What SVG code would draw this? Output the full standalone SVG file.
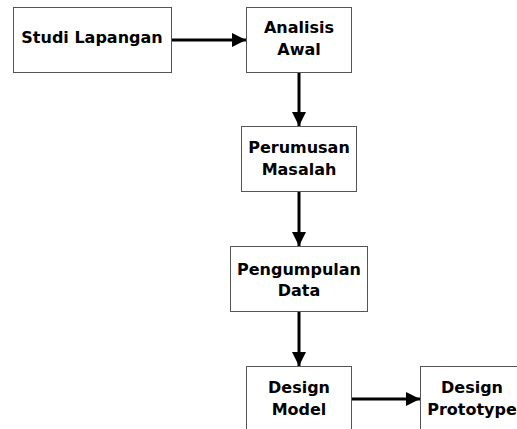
<svg xmlns="http://www.w3.org/2000/svg" width="517" height="429" viewBox="0 0 517 429">
<style>
.box{fill:#fff;stroke:#555;stroke-width:1}
.t{font-family:"DejaVu Sans","Verdana",sans-serif;font-weight:bold;font-size:16px;fill:#000;text-anchor:middle}
.c{stroke:#000;stroke-width:3;fill:none}
</style>
<defs>
<marker id="ah" markerUnits="userSpaceOnUse" markerWidth="14" markerHeight="14" refX="14" refY="7" orient="auto">
<path d="M0,0 L14,7 L0,14 Z" fill="#000"/>
</marker>
</defs>
<rect width="517" height="429" fill="#fff"/>
<g id="connectors">
<line class="c" x1="171" y1="40" x2="246" y2="40" marker-end="url(#ah)"/>
<line class="c" x1="299" y1="72" x2="299" y2="126" marker-end="url(#ah)"/>
<line class="c" x1="299" y1="191" x2="299" y2="246" marker-end="url(#ah)"/>
<line class="c" x1="299" y1="311" x2="299" y2="366" marker-end="url(#ah)"/>
<line class="c" x1="351" y1="399" x2="420" y2="399" marker-end="url(#ah)"/>
</g>
<g id="studi-lapangan">
<rect class="box" x="13.5" y="7.5" width="158" height="65"/>
<text class="t" x="92" y="43">Studi Lapangan</text>
</g>
<g id="analisis-awal">
<rect class="box" x="246.5" y="7.5" width="105" height="65"/>
<text class="t" x="299" y="33">Analisis</text>
<text class="t" x="299" y="55">Awal</text>
</g>
<g id="perumusan-masalah">
<rect class="box" x="241.5" y="126.5" width="115" height="65"/>
<text class="t" x="299" y="153">Perumusan</text>
<text class="t" x="299" y="175">Masalah</text>
</g>
<g id="pengumpulan-data">
<rect class="box" x="230.5" y="246.5" width="137" height="65"/>
<text class="t" x="299" y="275">Pengumpulan</text>
<text class="t" x="299" y="296">Data</text>
</g>
<g id="design-model">
<rect class="box" x="246.5" y="366.5" width="105" height="70"/>
<text class="t" x="299" y="393">Design</text>
<text class="t" x="299" y="415">Model</text>
</g>
<g id="design-prototype">
<rect class="box" x="420.5" y="366.5" width="105" height="70"/>
<text class="t" x="472" y="393">Design</text>
<text class="t" x="472" y="415">Prototype</text>
</g>
</svg>
